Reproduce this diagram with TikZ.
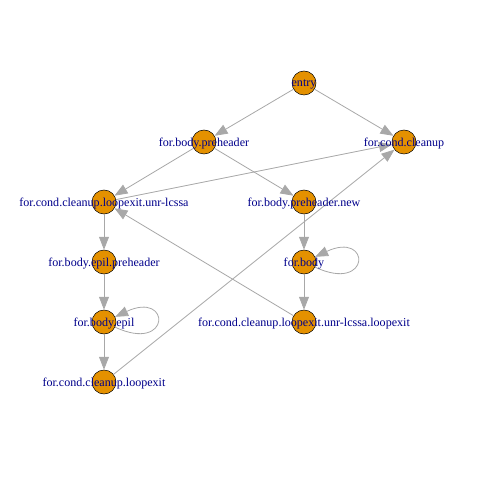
\documentclass[tikz,border=0pt]{standalone}
\usepackage{fontspec}
\setmainfont{Liberation Serif}
\usetikzlibrary{arrows.meta}
\definecolor{vfill}{RGB}{228,145,0}
\definecolor{edgegray}{RGB}{168,168,168}
\definecolor{labelblue}{RGB}{0,0,139}
\tikzset{
  vertex/.style={circle, draw=black, line width=0.5bp, fill=vfill,
    minimum size=24bp, inner sep=0pt},
  vlabel/.style={text=labelblue, font=\fontsize{12.1}{14}\selectfont,
    inner sep=0pt, anchor=center, yshift=-1.2bp},
  edge/.style={draw=edgegray, line width=0.8bp,
    -{Triangle[length=13bp,width=10bp,fill=edgegray]}},
  selfloop/.style={edge, out=-25, in=25, min distance=62bp}
}
\begin{document}
\begin{tikzpicture}[x=1bp, y=-1bp]
\useasboundingbox (0,0) rectangle (480,480);
% vertices
\node[vertex] (entry)    at (304,83)  {};
\node[vertex] (pre)      at (204,142) {};
\node[vertex] (cleanup)  at (404,142) {};
\node[vertex] (unr)      at (104,202) {};
\node[vertex] (prenew)   at (304,202) {};
\node[vertex] (epilpre)  at (104,262) {};
\node[vertex] (body)     at (304,262) {};
\node[vertex] (epil)     at (104,322) {};
\node[vertex] (unrexit)  at (304,322) {};
\node[vertex] (loopexit) at (104,382) {};
% edges
\draw[edge] (entry) -- (pre);
\draw[edge] (entry) -- (cleanup);
\draw[edge] (pre) -- (unr);
\draw[edge] (pre) -- (prenew);
\draw[edge] (unr) -- (cleanup);
\draw[edge] (unr) -- (epilpre);
\draw[edge] (prenew) -- (body);
\draw[selfloop] (body) to (body);
\draw[edge] (body) -- (unrexit);
\draw[edge] (unrexit) -- (unr);
\draw[edge] (epilpre) -- (epil);
\draw[selfloop] (epil) to (epil);
\draw[edge] (epil) -- (loopexit);
\draw[edge] (loopexit) -- (cleanup);
% labels
\node[vlabel] (entry-l)    at (entry)    {entry};
\node[vlabel] (pre-l)      at (pre)      {for.body.preheader};
\node[vlabel] (cleanup-l)  at (cleanup)  {for.cond.cleanup};
\node[vlabel] (unr-l)      at (unr)      {for.cond.cleanup.loopexit.unr-lcssa};
\node[vlabel] (prenew-l)   at (prenew)   {for.body.preheader.new};
\node[vlabel] (epilpre-l)  at (epilpre)  {for.body.epil.preheader};
\node[vlabel] (body-l)     at (body)     {for.body};
\node[vlabel] (epil-l)     at (epil)     {for.body.epil};
\node[vlabel] (unrexit-l)  at (unrexit)  {for.cond.cleanup.loopexit.unr-lcssa.loopexit};
\node[vlabel] (loopexit-l) at (loopexit) {for.cond.cleanup.loopexit};
\end{tikzpicture}
\end{document}
